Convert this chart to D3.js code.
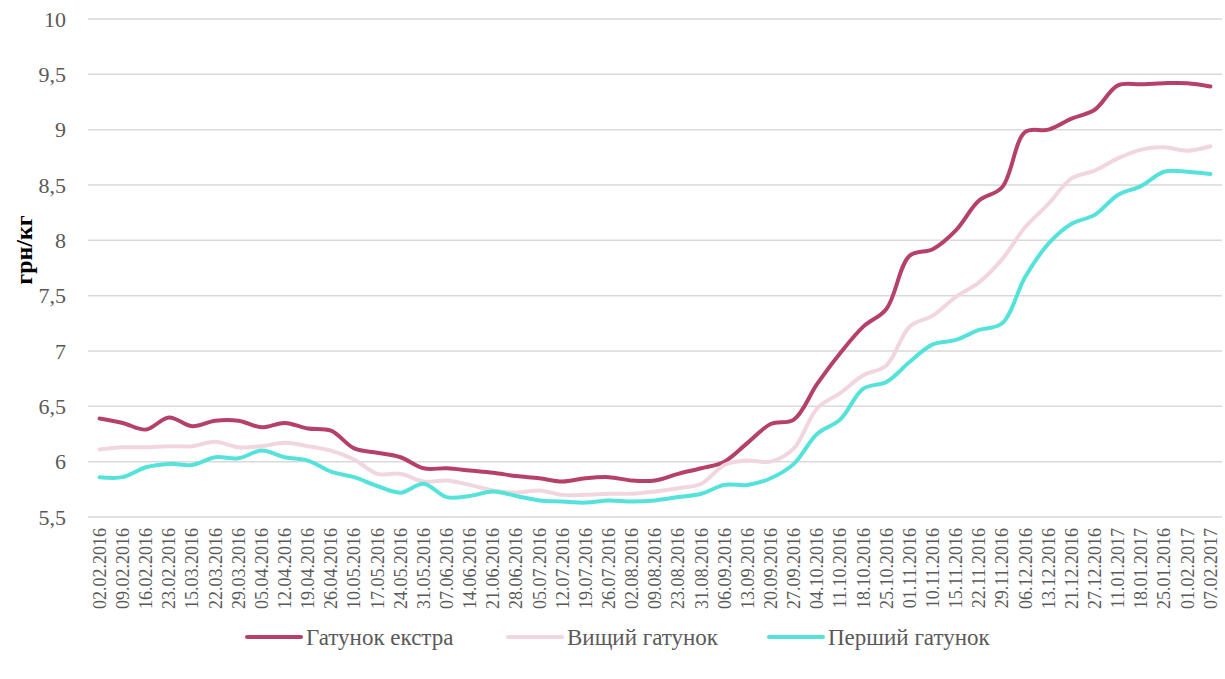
<!DOCTYPE html>
<html>
<head>
<meta charset="utf-8">
<script src="https://cdn.jsdelivr.net/npm/d3@7"></script>
<style>
  body { margin: 0; background: #fff; }
  svg, svg text { font-family: "Liberation Serif", "DejaVu Serif", serif; }
</style>
</head>
<body>
<div id="chart"></div>
<script>
const dates = ['02.02.2016', '09.02.2016', '16.02.2016', '23.02.2016', '15.03.2016', '22.03.2016', '29.03.2016',
    '05.04.2016', '12.04.2016', '19.04.2016', '26.04.2016', '10.05.2016', '17.05.2016', '24.05.2016',
    '31.05.2016', '07.06.2016', '14.06.2016', '21.06.2016', '28.06.2016', '05.07.2016', '12.07.2016',
    '19.07.2016', '26.07.2016', '02.08.2016', '09.08.2016', '23.08.2016', '31.08.2016', '06.09.2016',
    '13.09.2016', '20.09.2016', '27.09.2016', '04.10.2016', '11.10.2016', '18.10.2016', '25.10.2016',
    '01.11.2016', '10.11.2016', '15.11.2016', '22.11.2016', '29.11.2016', '06.12.2016', '13.12.2016',
    '21.12.2016', '27.12.2016', '11.01.2017', '18.01.2017', '25.01.2016', '01.02.2017', '07.02.2017'];

const extra = [6.39, 6.35, 6.29, 6.40, 6.32, 6.37, 6.37, 6.31, 6.35, 6.30, 6.28, 6.12, 6.08, 6.04, 5.94, 5.94,
    5.92, 5.90, 5.87, 5.85, 5.82, 5.85, 5.86, 5.83, 5.83, 5.89, 5.94, 6.00, 6.17, 6.34, 6.38, 6.70, 6.98,
    7.22, 7.38, 7.86, 7.92, 8.09, 8.36, 8.48, 8.98, 9.00, 9.10, 9.18, 9.40, 9.41, 9.42, 9.42, 9.39];

const higher = [6.11, 6.13, 6.13, 6.14, 6.14, 6.18, 6.13, 6.14, 6.17, 6.14, 6.10, 6.02, 5.89, 5.89, 5.82, 5.83,
    5.79, 5.74, 5.72, 5.74, 5.70, 5.70, 5.71, 5.71, 5.73, 5.76, 5.80, 5.97, 6.01, 6.00, 6.12, 6.48, 6.62,
    6.78, 6.87, 7.22, 7.32, 7.49, 7.62, 7.83, 8.12, 8.33, 8.56, 8.63, 8.74, 8.82, 8.84, 8.81, 8.85];

const first = [5.86, 5.86, 5.95, 5.98, 5.97, 6.04, 6.03, 6.10, 6.04, 6.01, 5.91, 5.86, 5.78, 5.72, 5.80, 5.68,
    5.69, 5.73, 5.69, 5.65, 5.64, 5.63, 5.65, 5.64, 5.65, 5.68, 5.71, 5.79, 5.79, 5.85, 5.98, 6.25, 6.38,
    6.66, 6.72, 6.90, 7.06, 7.10, 7.19, 7.25, 7.67, 7.97, 8.15, 8.23, 8.41, 8.49, 8.62, 8.62, 8.60];

const seriesNames = ['Гатунок екстра', 'Вищий гатунок', 'Перший гатунок'];
const seriesColors = ['#b5406a', '#f1d6df', '#55e2da'];
const yTicks = [5.5, 6, 6.5, 7, 7.5, 8, 8.5, 9, 9.5, 10];

const serif = '"Liberation Serif", "DejaVu Serif", serif';
const width = 1225;
const height = 679;
const margin = { top: 19, right: 3, bottom: 162, left: 88 };
const innerW = width - margin.left - margin.right;
const innerH = height - margin.top - margin.bottom;

const svg = d3.select('#chart').append('svg')
    .attr('width', width)
    .attr('height', height)
    .attr('font-family', serif);

const g = svg.append('g')
    .attr('transform', `translate(${margin.left},${margin.top})`);

const x = d3.scaleBand().domain(dates).range([0, innerW]).padding(0);
const y = d3.scaleLinear().domain([5.5, 10]).range([innerH, 0]);

// gridlines
g.selectAll('.grid')
    .data(yTicks)
    .enter().append('line')
    .attr('class', 'grid')
    .attr('x1', 0)
    .attr('x2', innerW)
    .attr('y1', d => y(d))
    .attr('y2', d => y(d))
    .attr('stroke', '#d9d9d9')
    .attr('stroke-width', 1.5);

// y axis
const yAxis = g.append('g')
    .call(d3.axisLeft(y).tickValues(yTicks).tickSize(0).tickPadding(22)
        .tickFormat(d => String(d).replace('.', ',')))
    .attr('font-family', serif)
    .attr('font-size', 22);
yAxis.select('.domain').remove();
yAxis.selectAll('text')
    .attr('fill', '#595959');

// x axis
const xAxis = g.append('g')
    .attr('transform', `translate(0,${innerH})`)
    .call(d3.axisBottom(x).tickSize(0))
    .attr('font-family', serif)
    .attr('font-size', 18);
xAxis.select('.domain').remove();
xAxis.selectAll('text')
    .attr('fill', '#595959')
    .attr('transform', 'rotate(-90)')
    .attr('text-anchor', 'end')
    .attr('x', -11)
    .attr('y', 0)
    .attr('dy', '0.35em');

// y title
svg.append('text')
    .attr('transform', 'translate(32,250) rotate(-90)')
    .attr('text-anchor', 'middle')
    .attr('font-weight', 'bold')
    .attr('font-size', 24)
    .attr('fill', '#000')
    .text('грн/кг');

// lines
const line = d3.line()
    .x((d, i) => x(dates[i]) + x.bandwidth() / 2)
    .y(d => y(d))
    .curve(d3.curveCatmullRom.alpha(0.5));

[extra, higher, first].forEach((values, k) => {
    g.append('path')
        .datum(values)
        .attr('fill', 'none')
        .attr('stroke', seriesColors[k])
        .attr('stroke-width', 4)
        .attr('stroke-linejoin', 'round')
        .attr('stroke-linecap', 'round')
        .attr('d', line);
});

// legend
const legend = svg.append('g')
    .attr('transform', 'translate(247,637)');

const item = legend.selectAll('.item')
    .data(seriesNames)
    .enter().append('g')
    .attr('class', 'item')
    .attr('transform', (d, i) => `translate(${i * 261},0)`);

item.append('line')
    .attr('x1', 0)
    .attr('x2', 54)
    .attr('y1', 0)
    .attr('y2', 0)
    .attr('stroke', (d, i) => seriesColors[i])
    .attr('stroke-width', 4)
    .attr('stroke-linecap', 'round');

item.append('text')
    .attr('x', 59)
    .attr('y', 0)
    .attr('dy', '0.33em')
    .attr('fill', '#595959')
    .attr('font-size', 23)
    .text(d => d);
</script>
</body>
</html>
